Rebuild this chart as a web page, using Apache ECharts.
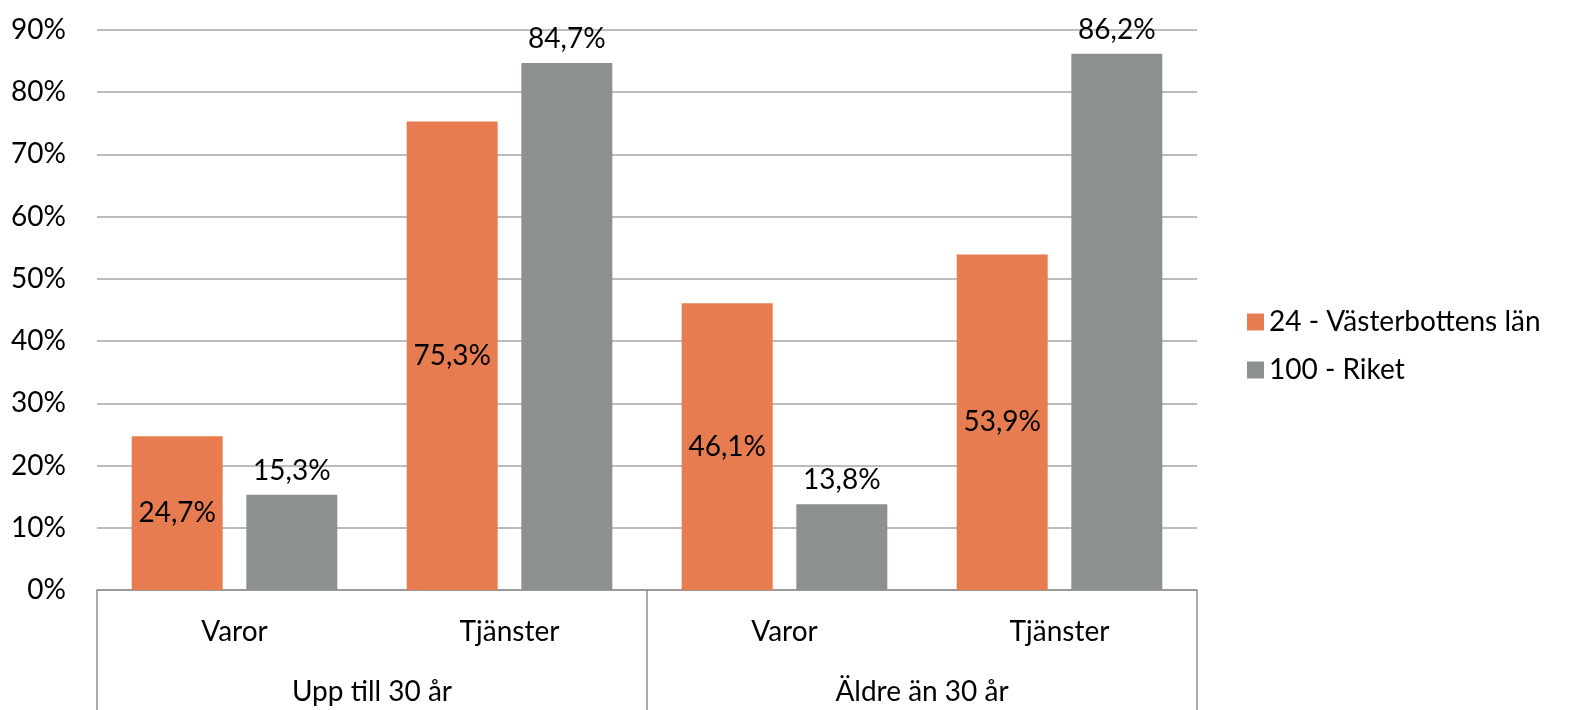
<html lang="sv">
<head>
  <meta charset="UTF-8">
  <title>Varor och tjänster</title>
  <style>
    html, body { margin: 0; padding: 0; background: #fff; }
    #chart { width: 1571px; height: 710px; }
  </style>
</head>
<body>
  <div id="chart"></div>
  <script src="https://cdn.jsdelivr.net/npm/echarts@6/dist/echarts.min.js"></script>
  <script>
    var categories = ['Varor', 'Tjänster', 'Varor', 'Tjänster']
    var groups = ['Upp till 30 år', 'Äldre än 30 år']
    var vasterbotten = [24.7, 75.3, 46.1, 53.9]
    var riket = [15.3, 84.7, 13.8, 86.2]
    var seriesNames = ['24 - Västerbottens län', '100 - Riket']

    var font = 'Lato'
    var fmt = function (p) {
      return p.value.toFixed(1).replace('.', ',') + '%'
    }

    var option = {
      color: ['#E67C4F', '#8C918E'],
      textStyle: { fontFamily: font },
      legend: {
        orient: 'vertical',
        left: 1242,
        top: 303,
        itemWidth: 17,
        itemHeight: 17,
        itemGap: 20,
        icon: 'rect',
        textStyle: { fontFamily: font, fontSize: 28, color: '#000' },
        data: seriesNames
      },
      grid: {
        left: 97,
        right: 374,
        top: 30,
        bottom: 120,
        containLabel: false
      },
      xAxis: [
        {
          type: 'category',
          data: categories,
          axisLine: { lineStyle: { color: '#8E8E8E', width: 1.5 } },
          axisTick: { show: false },
          axisLabel: { color: '#000', fontFamily: font, fontSize: 28, margin: 28 }
        },
        {
          type: 'category',
          data: groups,
          position: 'bottom',
          axisLine: { show: false },
          axisTick: { show: true, length: 120, lineStyle: { color: '#8E8E8E', width: 1.5 } },
          axisLabel: { color: '#000', fontFamily: font, fontSize: 28, margin: 88 },
          splitLine: { show: false }
        }
      ],
      yAxis: {
        type: 'value',
        min: 0,
        max: 90,
        interval: 10,
        axisLine: { show: false },
        axisTick: { show: false },
        axisLabel: {
          formatter: '{value}%',
          color: '#000',
          fontFamily: font,
          fontSize: 28,
          margin: 31
        },
        splitLine: { lineStyle: { color: '#A6A6A6', width: 1.5 } }
      },
      series: [
        {
          name: seriesNames[0],
          type: 'bar',
          barWidth: 91,
          barGap: '26%',
          data: vasterbotten,
          label: {
            show: true,
            position: 'inside',
            formatter: fmt,
            color: '#000',
            fontFamily: font,
            fontSize: 28
          }
        },
        {
          name: seriesNames[1],
          type: 'bar',
          barWidth: 91,
          barGap: '26%',
          data: riket,
          label: {
            show: true,
            position: 'top',
            distance: 10,
            formatter: fmt,
            color: '#000',
            fontFamily: font,
            fontSize: 28
          }
        }
      ]
    }

    var chart = echarts.init(document.getElementById('chart'))
    chart.setOption(option)
  </script>
</body>
</html>
